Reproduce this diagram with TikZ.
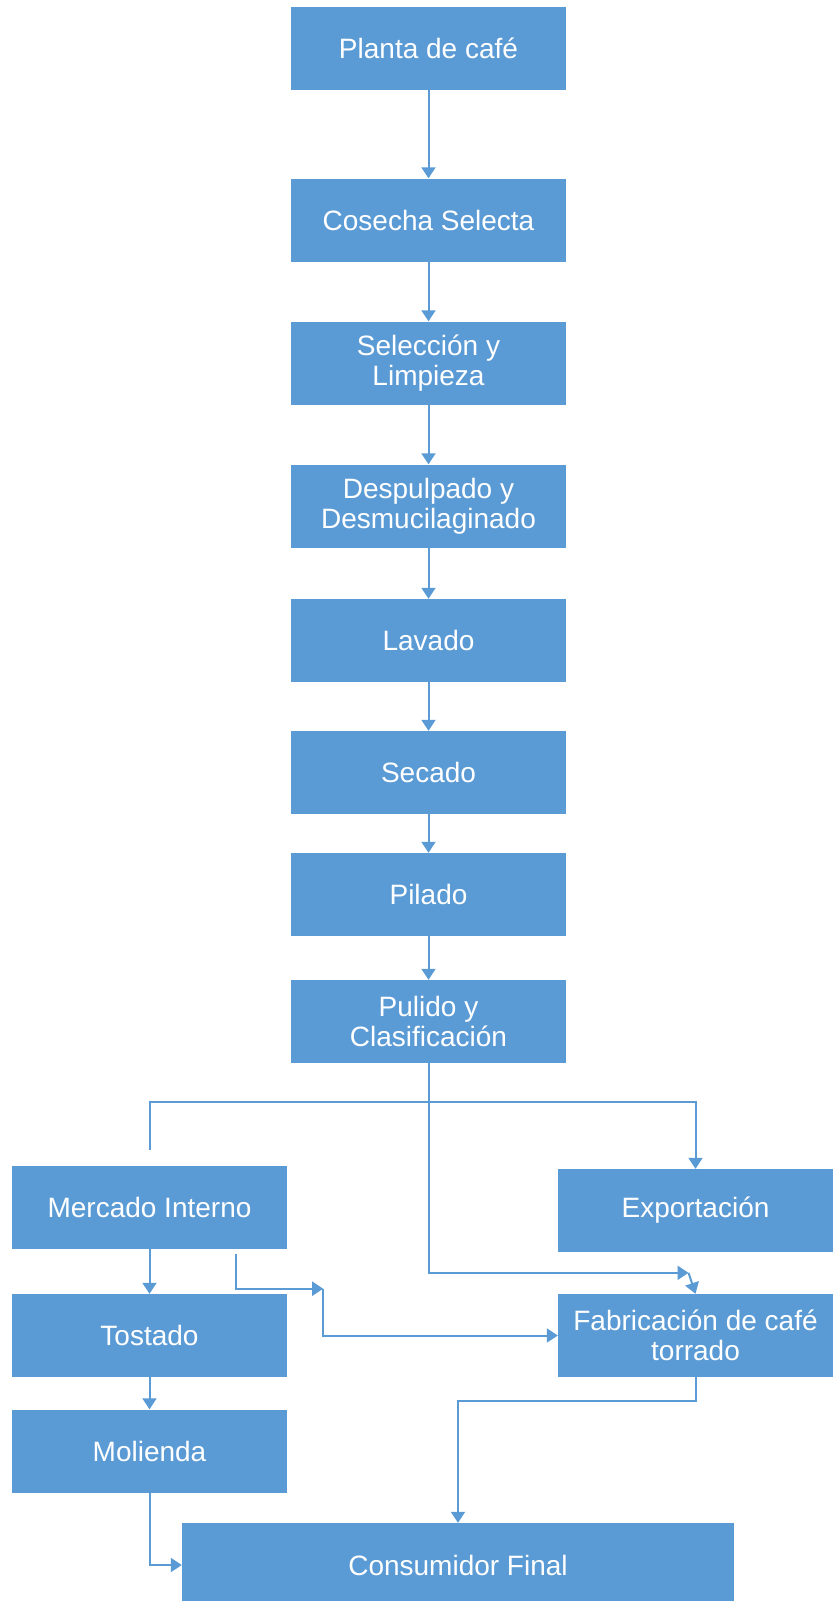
\documentclass[tikz,border=0pt]{standalone}
\usepackage{fontspec}
\setmainfont{Liberation Sans}
\usepackage{tikz}
\usetikzlibrary{positioning, arrows.meta}
\definecolor{boxblue}{RGB}{91,155,213}
\tikzstyle{process} = [rectangle, minimum width=275pt, minimum height=83pt, text centered, align=center, fill=boxblue, text=white, font=\fontsize{28}{30}\selectfont]
\tikzstyle{arrow} = [line width=2pt, draw=boxblue, -{Triangle[width=14pt,length=11pt]}]
\tikzstyle{line} = [line width=2pt, draw=boxblue]

\begin{document}
\begin{tikzpicture}[node distance=143pt]
		\useasboundingbox (0,0) rectangle (833pt,-1601pt);
		
		% Nodes
		\node (planta) [process] at (428.5pt,-48pt) {Planta de café};
		\node (cosecha) [process, below of=planta, yshift=-29pt] {Cosecha Selecta};
		\node (seleccion) [process, below of=cosecha] {Selección y\\Limpieza};
		\node (despulpado) [process, below of=seleccion] {Despulpado y\\Desmucilaginado};
		\node (lavado) [process, below of=despulpado, yshift=8.5pt] {Lavado};
		\node (secado) [process, below of=lavado, yshift=11pt] {Secado};
		\node (pilado) [process, below of=secado, yshift=21pt] {Pilado};
		\node (pulido) [process, below of=pilado, yshift=16pt] {Pulido y\\Clasificación};
		\node (mercado) [process, below of=pulido, xshift=-279pt, yshift=-42.5pt] {Mercado Interno};
		\node (exportacion) [process, right of=mercado, xshift=403pt, yshift=-3.5pt] {Exportación};
		\node (tostado) [process, below of=mercado, yshift=14.5pt] {Tostado};
		\node (fabricacion) [process, right of=tostado, xshift=403pt] {Fabricación de café\\torrado};
		\node (molienda) [process, below of=tostado, yshift=27.5pt] {Molienda};
		\node (consumidor) [process, below of=molienda, xshift=308.5pt, yshift=29pt, minimum width=552pt, minimum height=84pt] {Consumidor Final};
		
		% Helper points
		\coordinate (branch) at ([yshift=-39pt]pulido.south);
		\coordinate (mleft) at ([yshift=15pt]mercado.north);
		\coordinate (kink) at ([xshift=-7pt,yshift=21pt]fabricacion.north);
		\coordinate (mout) at ([xshift=-51pt,yshift=-5pt]mercado.south east);
		\coordinate (mjog) at ([xshift=87pt,yshift=-35pt]mout);
		\coordinate (fdown) at ([yshift=-24pt]fabricacion.south);
		
		% Arrows
		\draw [arrow] (planta) -- (cosecha);
		\draw [arrow] (cosecha) -- (seleccion);
		\draw [arrow] (seleccion) -- (despulpado);
		\draw [arrow] (despulpado) -- (lavado);
		\draw [arrow] (lavado) -- (secado);
		\draw [arrow] (secado) -- (pilado);
		\draw [arrow] (pilado) -- (pulido);
		\draw [arrow] (mleft) |- (branch) -| (exportacion.north);
		\draw [line] (pulido.south) -- (branch);
		\draw [arrow] (branch) |- (kink);
		\draw [arrow] (kink) -- (fabricacion.north);
		\draw [arrow] (mercado) -- (tostado);
		\draw [arrow] (mout) |- (mjog);
		\draw [arrow] (mjog) |- (fabricacion.west);
		\draw [arrow] (tostado) -- (molienda);
		\draw [arrow] (molienda.south) |- (consumidor.west);
		\draw [arrow] (fabricacion.south) -- (fdown) -| (consumidor.north);
		
	\end{tikzpicture}
\end{document}
